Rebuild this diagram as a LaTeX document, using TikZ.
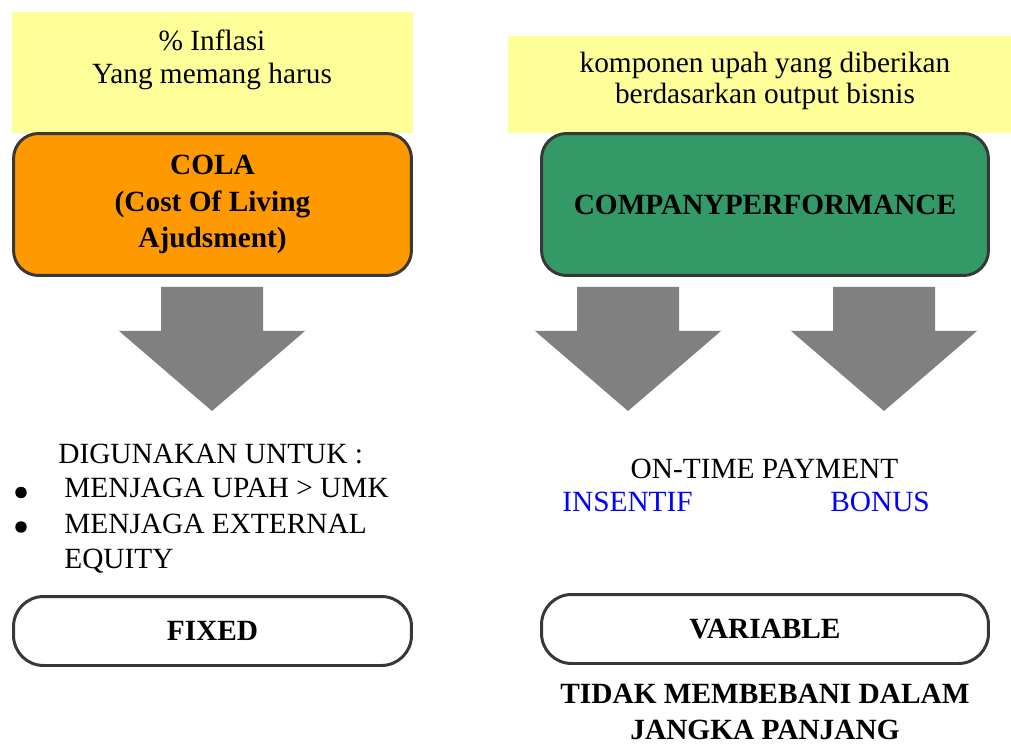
\documentclass[tikz,border=0pt]{standalone}
\usepackage{fontspec}
\setmainfont{Liberation Serif}
\usetikzlibrary{positioning}
\definecolor{notey}{HTML}{FFFF99}
\definecolor{colaor}{HTML}{FF9900}
\definecolor{perfgr}{HTML}{339966}
\definecolor{arrgray}{HTML}{808080}

\begin{document}
\begin{tikzpicture}[x=0.02cm,y=-0.02cm,every node/.style={font=\fontsize{16.7}{18.7}\selectfont,inner sep=0pt},note/.style={fill=notey},box/.style={draw=black!78,line width=1.7pt,rounded corners=0.5cm,minimum width=7.96cm,minimum height=2.84cm,align=center,font=\fontsize{16.7}{20.6}\selectfont\bfseries},pill/.style={draw=black!78,line width=1.7pt,rounded corners=0.6cm,minimum width=7.96cm,minimum height=1.38cm,font=\fontsize{16.7}{20}\selectfont\bfseries},bigarrow/.style={fill=arrgray},bul/.style={circle,fill=black,minimum size=0.23cm}]
\useasboundingbox (0,0) rectangle (1011,746);
\node[note,minimum width=8.02cm,minimum height=2.42cm] (inflbg) at (212.5,72.5) {};\node[align=center] (infl) at (212,59.7) {\% Inflasi\\Yang memang harus};
\node[note,minimum width=10.06cm,minimum height=1.94cm] (kompobg) at (759.5,84.5) {};\node[align=center,font=\fontsize{16.7}{17.6}\selectfont] (kompo) at (765,81) {komponen upah yang diberikan\\berdasarkan output bisnis};
\node[box,fill=colaor] (cola) at (212.5,204.5) {COLA\\(Cost Of Living\\Ajudsment)};
\node[box,fill=perfgr,minimum width=8.94cm] (perf) at (765,204.5) {COMPANYPERFORMANCE};
\foreach \t in {212,628,884} \fill[bigarrow] ({\t-51},287) -- ({\t+51},287) -- ({\t+51},331) -- ({\t+93},331) -- (\t,411) -- ({\t-93},331) -- ({\t-51},331) -- cycle;
\node[anchor=base west] (guna) at (58,463) {DIGUNAKAN UNTUK :};
\node[bul] (b1) at (21,492.5) {};\node[anchor=base west] (item1) at (64,498) {MENJAGA UPAH > UMK};
\node[bul] (b2) at (21,527) {};\node[anchor=north west,align=left,font=\fontsize{16.7}{19.8}\selectfont] (item2) at (64,513.5) {MENJAGA EXTERNAL\\EQUITY};
\node[pill] (fixed) at (212.5,631) {FIXED};
\node[anchor=base] (ontime) at (764.5,479) {ON-TIME PAYMENT};
\node[anchor=base west,text=blue] (insentif) at (562,511) {INSENTIF};\node[anchor=base west,text=blue] (bonus) at (830,511) {BONUS};
\node[pill,minimum width=8.94cm] (var) at (765,629) {VARIABLE};
\node[align=center,font=\fontsize{16.7}{21}\selectfont\bfseries] (beban) at (765,712) {TIDAK MEMBEBANI DALAM\\JANGKA PANJANG};
\end{tikzpicture}
\end{document}
